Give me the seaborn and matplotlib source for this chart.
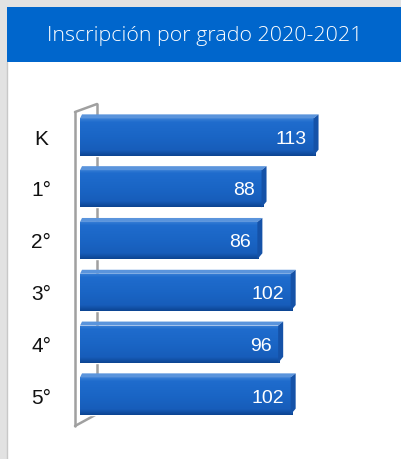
import matplotlib
matplotlib.use("Agg")
import matplotlib.pyplot as plt
import numpy as np
import pandas as pd
import seaborn as sns
from matplotlib.colors import LinearSegmentedColormap
from matplotlib.patches import Polygon, Rectangle

sns.set_theme(style="white")

title = "Inscripción por grado 2020-2021"
grades = ["K", "1°", "2°", "3°", "4°", "5°"]
enrollment = [113, 88, 86, 102, 96, 102]

W, H = 402, 459
fig = plt.figure(figsize=(W / 100, H / 100), dpi=100)
fig.patch.set_facecolor("#e2e2e2")

# white panel + blue header
fig.add_artist(Rectangle((7 / W, 0), 1, 1 - 62 / H, transform=fig.transFigure,
                         facecolor="white", edgecolor="none", zorder=0))
fig.add_artist(Rectangle((7 / W, 1 - 62 / H), 1, 55 / H, transform=fig.transFigure,
                         facecolor="#0066cc", edgecolor="none", zorder=0))
fig.add_artist(plt.Line2D([7.5 / W, 7.5 / W], [0, 1 - 62 / H], transform=fig.transFigure,
                          color="#c8c8c8", lw=1, zorder=1))
fig.text(205 / W, 1 - 36 / H, title, color="white", ha="center", va="center",
         fontsize=15.4, fontweight="light", family=["Open Sans", "DejaVu Sans"])

ax = fig.add_axes([80 / W, 30 / H, 320 / W, 330 / H])
ax.patch.set_alpha(0)
df = pd.DataFrame({"grade": grades, "n": enrollment})
sns.barplot(data=df, x="n", y="grade", orient="h", color="#1a64c4", width=0.72,
            saturation=1, ax=ax, zorder=3)

xmax = 320 / 2.08
ax.set_xlim(0, xmax)
ax.set_ylim(5.637, -0.734)
for s in ax.spines.values():
    s.set_visible(False)
ax.set_xticks([])
ax.set_xlabel("")
ax.set_ylabel("")
ax.tick_params(axis="y", length=0, pad=28)
for lbl in ax.get_yticklabels():
    lbl.set_fontsize(15)
    lbl.set_family(["Liberation Sans", "DejaVu Sans"])
    lbl.set_color("#111111")
    lbl.set_horizontalalignment("center")

# 3D wall at the left
y_top, y_bot = -0.734 + 13 / 51.8, 5.637 - 3 / 51.8
fx, bx = -5 / 2.08, 17 / 2.08
d = 8 / 51.8
wall = dict(color="#a0a0a0", lw=1.8, clip_on=False, zorder=1)
ax.plot([fx, fx], [y_top, y_bot], **wall)
ax.plot([bx, bx], [y_top - d, y_bot - 12 / 51.8], **wall)
ax.plot([fx, bx], [y_top, y_top - d], **wall)
ax.plot([fx, bx], [y_bot, y_bot - 12 / 51.8], **wall)

# 3D styling of each bar
grad = np.linspace(0, 1, 64).reshape(-1, 1)
cmap = LinearSegmentedColormap.from_list(
    "bar", [(0, "#3a80d6"), (0.1, "#1f6ccd"), (0.5, "#1a65c5"), (0.85, "#175dba"), (1, "#0c4492")])
dx, dy = 5 / 2.08, 4 / 51.8
for bar, val in zip(ax.patches, enrollment):
    x0, y0, w, h = bar.get_x(), bar.get_y(), bar.get_width(), bar.get_height()
    x1, yt, yb = x0 + w, y0, y0 + h
    im = ax.imshow(grad, aspect="auto", cmap=cmap, extent=(x0, x1, yb, yt), zorder=3.5)
    im.set_clip_path(bar)
    top = Polygon([(x0, yt), (x1 - dx * 0.3, yt), (x1 + dx * 0.7, yt - dy), (x0 + dx * 0.4, yt - dy)],
                  closed=True, facecolor="#5a94dc", edgecolor="none", zorder=4)
    side = Polygon([(x1 - dx * 0.3, yt), (x1 + dx * 0.7, yt - dy), (x1 + dx * 0.7, yb - dy * 1.5),
                    (x1 - dx * 0.3, yb)], closed=True, facecolor="#1552a8", edgecolor="none", zorder=4)
    ax.add_patch(top)
    ax.add_patch(side)
    ax.text(x1 - 4.0, y0 + h / 2 + 0.04, str(val), color="white", ha="right", va="center",
            fontsize=14, family=["Liberation Sans", "DejaVu Sans"], zorder=5)

fig.savefig("out.png", dpi=100, facecolor=fig.get_facecolor())
